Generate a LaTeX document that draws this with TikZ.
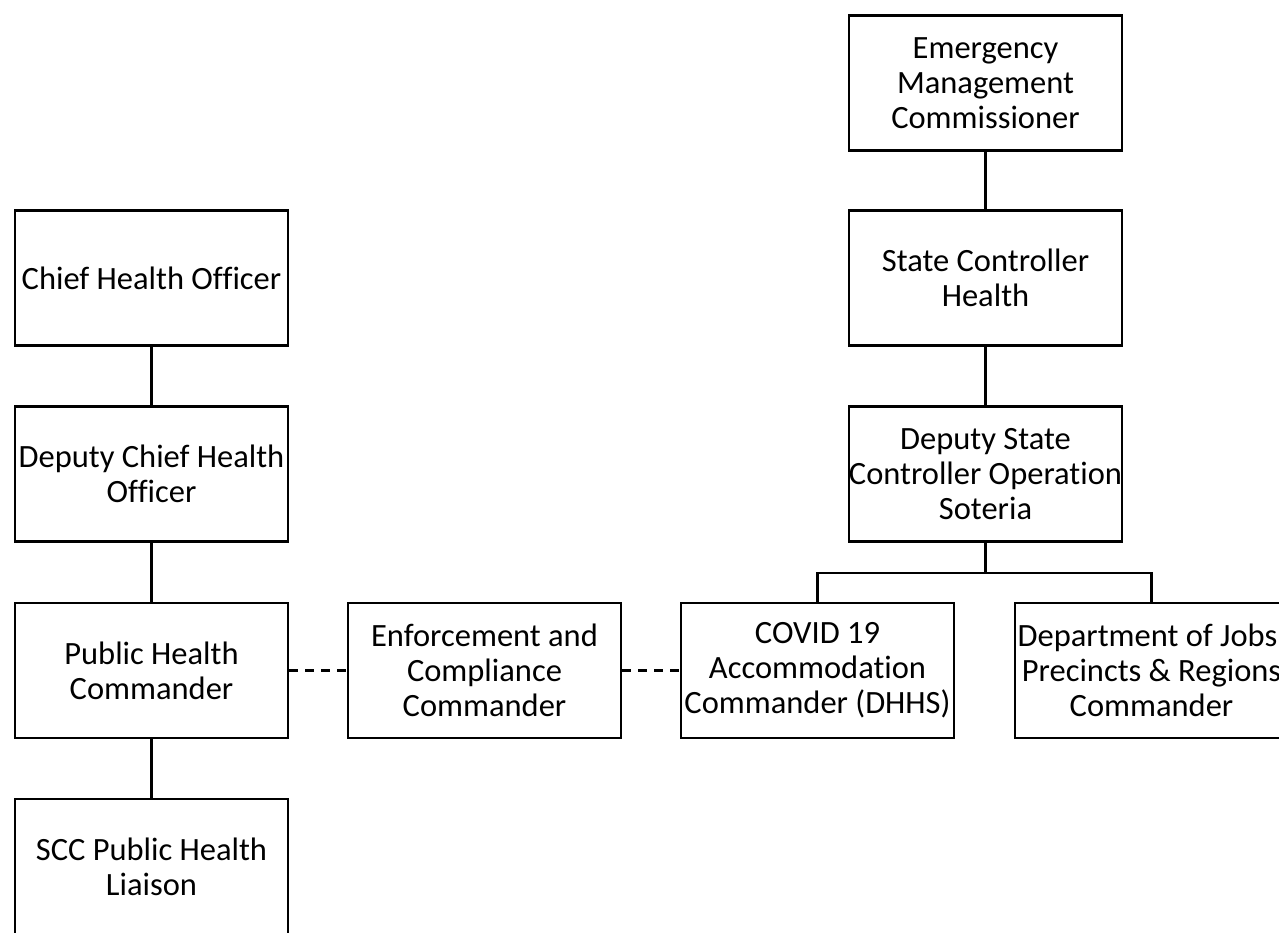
\documentclass[tikz,border=0pt]{standalone}
\usepackage{fontspec}
\setmainfont{Carlito}[Ligatures=NoCommon]
\tikzset{
  post/.style={draw, line width=2.6pt, minimum width=273pt, minimum height=135pt,
    inner sep=0pt, align=center, font=\fontsize{32.5}{35}\selectfont},
  link/.style={line width=2.6pt},
  dotlink/.style={line width=2.6pt, dash pattern=on 9pt off 7pt}
}
\begin{document}
\begin{tikzpicture}[x=1pt, y=-1pt]
        \useasboundingbox (0,0) rectangle (1279,932);
        % state control chain
        \node[post] (emc) at (985.5, 83) {Emergency\\Management\\Commissioner};
        \node[post] (sch) at (985.5, 278) {State Controller\\Health};
        \node[post] (dsc) at (985.5, 474) {Deputy State\\Controller Operation\\Soteria};
        % health chain
        \node[post] (cho) at (151.5, 278) {Chief Health Officer};
        \node[post] (dcho) at (151.5, 474) {Deputy Chief Health\\Officer};
        \node[post] (phc) at (151.5, 670.5) {Public Health\\Commander};
        \node[post] (scc) at (151.5, 866.5) {SCC Public Health\\Liaison};
        % commanders row
        \node[post] (ecc) at (484.5, 670.5) {Enforcement and\\Compliance\\Commander};
        \node[post] (acc) at (817.5, 670.5) {COVID 19\\Accommodation\\Commander (DHHS)};
        \node[post] (djp) at (1151.5, 670.5) {Department of Jobs,\\Precincts \& Regions\\Commander};
        \coordinate (bus) at (985.5, 573);
        \draw[link] (emc) -- (sch);
        \draw[link] (sch) -- (dsc);
        \draw[link] (dsc) -- (bus);
        \draw[link] (acc.north) |- (bus) -| (djp.north);
        \draw[link] (cho) -- (dcho);
        \draw[link] (dcho) -- (phc);
        \draw[link] (phc) -- (scc);
        \draw[dotlink] (phc) -- (ecc);
        \draw[dotlink] (ecc) -- (acc);
\end{tikzpicture}
\end{document}
